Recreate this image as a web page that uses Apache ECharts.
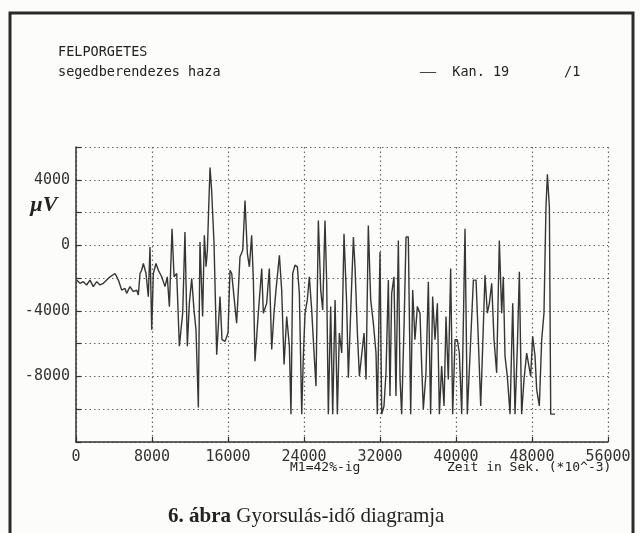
<!DOCTYPE html>
<html>
<head>
<meta charset="utf-8">
<script src="https://cdn.jsdelivr.net/npm/echarts@6/dist/echarts.min.js"></script>
<style>html,body{margin:0;padding:0;background:#fcfcfa;}#c{width:640px;height:533px;}</style>
</head>
<body>
<div id="c"></div>
<script>
// time (ms, i.e. Sek *10^-3)
var T = [70,420,770,1120,1470,1820,2180,2530,2880,3230,3580,4110,4460,4810,5160,5330,5680,6040,6390,6560,
6740,6910,7090,7370,7610,7790,7970,8140,8420,8670,9020,9370,9610,9830,10110,10320,10600,10880,11230,11470,
11720,11930,12180,12420,12630,12880,13050,13330,13510,13690,13830,13970,14110,14280,14530,14810,14980,15160,15370,15690,
16000,16210,16390,16630,16910,17090,17260,17550,17790,18040,18250,18490,18670,18840,19190,19550,19720,20070,20350,20600,
20840,21050,21410,21650,21900,22180,22460,22630,22810,23050,23300,23510,23760,23930,24110,24350,24560,24810,24980,25260,
25510,25760,25970,26210,26390,26560,26810,27020,27270,27510,27720,27970,28210,28490,28670,28910,29200,29370,29620,29830,
30320,30530,30770,31020,31300,31580,31720,32000,32180,32420,32630,32880,33050,33230,33470,33680,33930,34110,34280,34530,
34740,34980,35230,35440,35680,35930,36210,36390,36560,36840,37090,37330,37540,37790,38040,38250,38490,38740,38950,39190,
39440,39650,39900,40140,40350,40600,40950,41190,41470,41830,42110,42350,42600,42810,43050,43300,43510,43760,44000,44280,
44560,44810,44980,45160,45400,45690,45970,46210,46460,46670,46910,47160,47440,47620,47860,48070,48320,48490,48770,49020,
49260,49470,49620,49830,49970,50420];
// signal (µV)
var V = [-2120,-2320,-2220,-2420,-2120,-2520,-2220,-2420,-2320,-2120,-1920,-1720,-2120,-2730,-2630,-2930,-2520,-2830,-2730,-3030,
-1720,-1520,-1110,-1720,-3130,-100,-5150,-1720,-1110,-1520,-1920,-2520,-1920,-3740,1010,-1920,-1720,-6160,-4140,810,
-6160,-3540,-2020,-3940,-5150,-9900,200,-4340,610,-1310,-300,2320,4750,3330,100,-6670,-4950,-3130,-5760,-5860,
-5350,-1520,-1720,-3130,-4750,-2730,-710,-300,2730,-510,-1310,610,-2120,-7070,-4140,-1410,-4140,-3540,-1410,-6360,
-4140,-2730,-610,-2730,-7270,-4340,-6160,-10300,-1720,-1210,-1310,-2930,-10300,-6770,-4140,-3330,-1920,-3940,-5760,-8590,
1520,-2730,-3940,1520,-2320,-10300,-3740,-10300,-3330,-10300,-5350,-6570,710,-3540,-8080,-4140,510,-1310,-5350,-7980,
-5350,-8180,1210,-3330,-4750,-6570,-10300,-400,-10300,-9800,-7780,-2120,-9190,-2930,-1920,-9190,300,-8180,-10300,-4950,
510,510,-10300,-2730,-5760,-3740,-4140,-7370,-10000,-7780,-2220,-10300,-3130,-5760,-3540,-10300,-7370,-9800,-4340,-8180,
-1410,-10300,-5760,-5760,-6570,-10300,1010,-10300,-6770,-2120,-2120,-5760,-9800,-6160,-1820,-4140,-3540,-2320,-5760,-7780,
300,-4140,-1920,-6770,-7980,-10300,-3540,-10300,-6160,-1620,-10300,-8180,-6570,-6570,-7980,-5560,-6770,-8790,-9800,-5760,
-4140,2320,4340,2320,-10300,-10300];
var Y_LABELS = [4000, 0, -4000, -8000];

var chart = echarts.init(document.getElementById('c'), null, {renderer:'canvas'});
var mono = '"DejaVu Sans Mono", "Liberation Mono", monospace';
var ink = '#333';
chart.setOption({
  animation: false,
  backgroundColor: '#fcfcfa',
  grid: {left: 76, right: 32, top: 147, bottom: 91},
  xAxis: {
    type: 'value', min: 0, max: 56000, interval: 8000,
    axisLine: {onZero: false, lineStyle: {color: ink, width: 1.5}},
    axisTick: {inside: true, length: 5, lineStyle: {color: ink, width: 1.2}},
    axisLabel: {fontFamily: mono, fontSize: 15, color: ink, margin: 8,
      formatter: function (v) { return String(v); }},
    splitLine: {show: true, lineStyle: {type: [1.5, 3], color: '#666', width: 1.2}}
  },
  yAxis: {
    type: 'value', min: -12000, max: 6000, interval: 2000,
    axisLine: {onZero: false, lineStyle: {color: ink, width: 1.5}},
    axisTick: {inside: true, length: 5, lineStyle: {color: ink, width: 1.2}},
    axisLabel: {fontFamily: mono, fontSize: 15, color: ink, margin: 6,
      formatter: function (v) { return Y_LABELS.indexOf(v) >= 0 ? String(v) : ''; }},
    splitLine: {show: true, lineStyle: {type: [1.5, 3], color: '#666', width: 1.2}}
  },
  series: [{
    type: 'line',
    data: T.map(function (t, i) { return [t, V[i]]; }),
    showSymbol: false, symbol: 'none',
    lineStyle: {color: '#363636', width: 1.4}
  }],
  graphic: [
    {type: 'rect', shape: {x: 10, y: 13, width: 623, height: 540}, style: {fill: null, stroke: '#2a2a2a', lineWidth: 3}, silent: true},
    {type: 'text', left: 58, top: 45, style: {text: 'FELPORGETES', font: '13.5px ' + mono, fill: '#222'}},
    {type: 'text', left: 58, top: 65, style: {text: 'segedberendezes haza', font: '13.5px ' + mono, fill: '#222'}},
    {type: 'text', left: 420, top: 64, style: {
      text: '{d|—}  Kan. 19',
      rich: {d: {font: '16px "Liberation Serif", serif', fill: '#222'}},
      font: '13.5px ' + mono, fill: '#222'}},
    {type: 'text', left: 564, top: 65, style: {text: '/1', font: '13.5px ' + mono, fill: '#222'}},
    {type: 'text', left: 30, top: 194, style: {text: 'µV', font: 'italic bold 22px "Liberation Serif", serif', fill: '#222'}},
    {type: 'text', left: 290, top: 461, style: {text: 'M1=42%-ig', font: '13px ' + mono, fill: '#222'}},
    {type: 'text', left: 447, top: 461, style: {text: 'Zeit in Sek. (*10^-3)', font: '13px ' + mono, fill: '#222'}},
    {type: 'text', left: 168, top: 506, style: {
      text: '{b|6. ábra} Gyorsulás-idő diagramja',
      rich: {b: {font: 'bold 21px "Liberation Serif", serif', fill: '#222'}},
      font: '21px "Liberation Serif", serif', fill: '#222'}}
  ]
});
</script>
</body>
</html>
